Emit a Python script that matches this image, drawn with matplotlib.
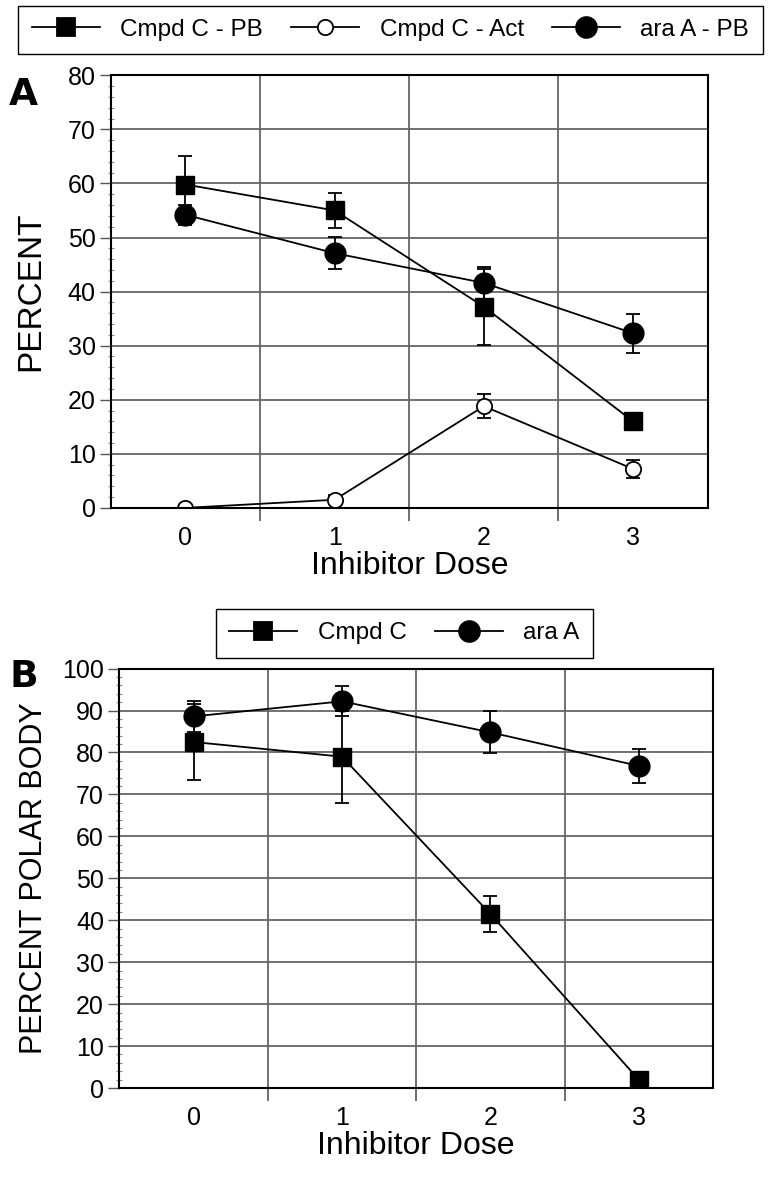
import numpy as np
import matplotlib
matplotlib.use('Agg')
import matplotlib.pyplot as plt
from matplotlib.lines import Line2D
from matplotlib.ticker import MultipleLocator, FixedLocator

plt.rcParams['font.family'] = ['Liberation Sans', 'DejaVu Sans']

doses = [0, 1, 2, 3]

# panel A
cmpd_pb = [59.8, 55.0, 37.2, 16.0]
cmpd_pb_err = [5.2, 3.3, 7.0, 0.8]
cmpd_act = [0.0, 1.5, 18.8, 7.2]
cmpd_act_err = [0.6, 0.8, 2.2, 1.6]
ara_pb = [54.2, 47.1, 41.6, 32.3]
ara_pb_err = [1.8, 3.0, 3.0, 3.6]

# panel B
cmpd_c = [82.5, 79.0, 41.5, 2.0]
cmpd_c_err = [9.0, 11.0, 4.2, 0.6]
ara_a = [88.6, 92.2, 84.8, 76.8]
ara_a_err = [3.6, 3.6, 5.0, 4.0]


def style_axes(ax, ymax, ystep):
    ax.set_xlim(-0.5, 3.5)
    ax.set_ylim(0, ymax)
    ax.yaxis.set_major_locator(MultipleLocator(ystep))
    ax.yaxis.set_minor_locator(MultipleLocator(2))
    ax.xaxis.set_major_locator(FixedLocator([0.5, 1.5, 2.5]))
    ax.xaxis.set_major_formatter(plt.NullFormatter())
    ax.xaxis.set_minor_locator(FixedLocator(doses))
    ax.xaxis.set_minor_formatter(plt.FixedFormatter([str(d) for d in doses]))
    ax.tick_params(axis='x', which='major', length=9, width=1.2, color='#555555')
    ax.tick_params(axis='x', which='minor', length=0, labelsize=18, pad=13)
    ax.tick_params(axis='y', which='major', length=8, width=1.0, labelsize=18, color='#555555', pad=3)
    ax.tick_params(axis='y', which='minor', length=4, width=0.8, direction='inout', color='#888888')
    ax.grid(True, which='major', axis='both', color='#666666', lw=1.3)
    ax.set_axisbelow(True)
    for s in ax.spines.values():
        s.set_color('black')
        s.set_linewidth(1.5)
    ax.set_xlabel('Inhibitor Dose', fontsize=23, labelpad=1)


def handle(marker, ms, fill):
    return Line2D([], [], color='black', lw=1.3, marker=marker, ms=ms, mfc=fill, mec='black', mew=1.3)


leg_kw = dict(fontsize=17.5, frameon=True, fancybox=False, edgecolor='black', framealpha=1,
              handlelength=2.8, handletextpad=0.85, columnspacing=1.15, borderaxespad=0,
              borderpad=0.55)
letter_kw = dict(fontsize=27, fontweight='bold', family='DejaVu Sans')

fig = plt.figure(figsize=(7.7, 11.95), dpi=100)

eb = dict(color='black', lw=1.3, elinewidth=1.3, ecolor='black', capsize=5, capthick=1.3)

axA = fig.add_axes([0.144, 0.575, 0.775, 0.362])
axA.errorbar(doses, cmpd_pb, yerr=cmpd_pb_err, marker='s', ms=13, mfc='black', mec='black', **eb)
axA.errorbar(doses, cmpd_act, yerr=cmpd_act_err, marker='o', ms=11, mfc='white', mec='black', mew=1.3, **eb)
axA.errorbar(doses, ara_pb, yerr=ara_pb_err, marker='o', ms=15, mfc='black', mec='black', **eb)
style_axes(axA, 80, 10)
axA.set_ylabel('PERCENT', fontsize=24)
axA.yaxis.set_label_coords(-0.108, 0.5)
fig.text(0.012, 0.912, 'A', **letter_kw)

fig.legend([handle('s', 13, 'black'), handle('o', 11, 'white'), handle('o', 15, 'black')],
           ['Cmpd C - PB', 'Cmpd C - Act', 'ara A - PB'],
           loc='center', bbox_to_anchor=(0.507, 0.975), ncol=3, **leg_kw)

axB = fig.add_axes([0.155, 0.0895, 0.771, 0.351])
axB.errorbar(doses, cmpd_c, yerr=cmpd_c_err, marker='s', ms=13, mfc='black', mec='black', **eb)
axB.errorbar(doses, ara_a, yerr=ara_a_err, marker='o', ms=15, mfc='black', mec='black', **eb)
style_axes(axB, 100, 10)
axB.set_ylabel('PERCENT POLAR BODY', fontsize=22)
axB.yaxis.set_label_coords(-0.118, 0.5)
fig.text(0.012, 0.425, 'B', **letter_kw)

fig.legend([handle('s', 13, 'black'), handle('o', 15, 'black')], ['Cmpd C', 'ara A'],
           loc='center', bbox_to_anchor=(0.525, 0.470), ncol=2, **leg_kw)

fig.savefig('out.png', dpi=100)
